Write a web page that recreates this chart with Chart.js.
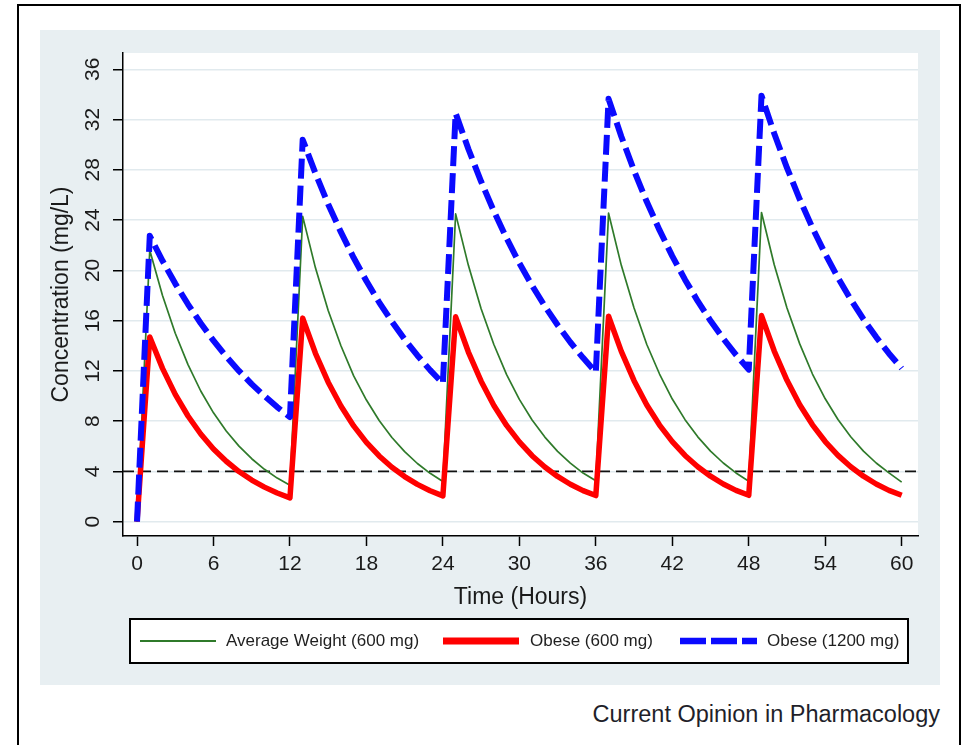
<!DOCTYPE html>
<html>
<head>
<meta charset="utf-8">
<script src="https://cdn.jsdelivr.net/npm/chart.js@4.4.1/dist/chart.umd.min.js"></script>
<style>
html,body{margin:0;padding:0;background:#fff;width:964px;height:745px;overflow:hidden;}
#frame{position:absolute;left:17px;top:4px;width:944px;height:800px;border:2px solid #000;box-sizing:border-box;}
#panel{position:absolute;left:40px;top:30px;width:900px;height:655px;}
#caption{position:absolute;right:24px;top:701px;font:23.5px "Liberation Sans",Arial,sans-serif;line-height:26px;color:#1f1f2a;white-space:nowrap;}
</style>
</head>
<body>
<div id="frame"></div>
<div id="panel"><canvas id="c" width="900" height="655"></canvas></div>
<div id="caption">Current Opinion in Pharmacology</div>
<script>
// ---- data ----
const hours = [0,1,2,3,4,5,6,7,8,9,10,11,12,13,14,15,16,17,18,19,20,21,22,23,24,25,26,27,28,29,30,31,32,33,34,35,36,37,38,39,40,41,42,43,44,45,46,47,48,49,50,51,52,53,54,55,56,57,58,59,60];
const avgWeight600 = [0,
  21.6,18.0,15.0,12.5,10.4,8.66,7.22,6.01,5.01,4.17,3.47,2.9,
  24.3,20.2,16.8,14.0,11.6,9.68,8.05,6.70,5.57,4.63,3.85,3.2,
  24.5,20.4,16.95,14.1,11.7,9.73,8.09,6.73,5.6,4.66,3.87,3.25,
  24.55,20.4,17.0,14.1,11.75,9.76,8.12,6.75,5.62,4.67,3.88,3.22,
  24.6,20.45,17.0,14.15,11.75,9.78,8.13,6.76,5.62,4.67,3.88,3.15];
const obese600 = [0,
  14.7,12.2,10.13,8.41,6.98,5.79,4.81,3.99,3.31,2.75,2.28,1.9,
  16.2,13.4,11.1,9.2,7.62,6.31,5.23,4.33,3.59,2.97,2.46,2.05,
  16.3,13.5,11.18,9.25,7.66,6.35,5.25,4.35,3.6,2.98,2.47,2.08,
  16.35,13.55,11.22,9.28,7.69,6.37,5.27,4.37,3.62,3.0,2.49,2.1,
  16.4,13.58,11.25,9.31,7.71,6.38,5.28,4.37,3.62,3.0,2.49,2.1];
const obese1200 = [0,
  22.75,20.76,18.95,17.3,15.79,14.41,13.15,12.0,10.95,10.0,9.12,8.33,
  30.4,27.72,25.27,23.04,21.0,19.15,17.46,15.92,14.51,13.23,12.06,11.0,
  32.5,29.66,27.07,24.71,22.55,20.58,18.79,17.15,15.65,14.28,13.04,11.9,
  33.65,30.66,27.94,25.46,23.2,21.14,19.26,17.55,15.99,14.57,13.28,12.1,
  33.9,30.89,28.15,25.66,23.38,21.31,19.42,17.69,16.12,14.69,13.39,12.2];
const thresholdValue = 4;
const xTicks = [0,6,12,18,24,30,36,42,48,54,60];
const yTicks = [0,4,8,12,16,20,24,28,32,36];
const seriesNames = ['Average Weight (600 mg)','Obese (600 mg)','Obese (1200 mg)'];

// ---- chart ----
const X_MIN = -1.1, X_MAX = 61.28, Y_MIN = -1.14, Y_MAX = 37.3;
const FONT = '"Liberation Sans", Arial, sans-serif';
const toPts = arr => hours.map((h,i)=>({x:h, y:arr[i]}));

const bgPlugin = {
  id:'bg',
  beforeDraw(chart){
    const {ctx, chartArea:a} = chart;
    ctx.save();
    ctx.fillStyle = '#e8eff2';
    ctx.fillRect(0,0,chart.width,chart.height);
    ctx.fillStyle = '#ffffff';
    ctx.fillRect(a.left, a.top, a.right-a.left, a.bottom-a.top);
    ctx.restore();
  }
};

const legendPlugin = {
  id:'customLegend',
  afterDraw(chart){
    const ctx = chart.ctx;
    const ds = chart.data.datasets;
    ctx.save();
    ctx.fillStyle = '#fff';
    ctx.fillRect(90,589,778,44);
    ctx.strokeStyle = '#000';
    ctx.lineWidth = 2;
    ctx.strokeRect(90,589,778,44);
    const cy = 611;
    const items = [
      {ds:ds[0], x0:100, x1:176, tx:186, w:2, dash:[]},
      {ds:ds[1], x0:403, x1:479, tx:490, w:7, dash:[]},
      {ds:ds[2], x0:640, x1:717, tx:727, w:6.5, dash:[26,5]}
    ];
    items.forEach(it=>{
      ctx.beginPath();
      ctx.setLineDash(it.dash);
      ctx.lineCap = 'butt';
      ctx.strokeStyle = it.ds.borderColor;
      ctx.lineWidth = it.w;
      ctx.moveTo(it.x0, cy);
      ctx.lineTo(it.x1, cy);
      ctx.stroke();
      ctx.setLineDash([]);
      ctx.fillStyle = '#1f1f1f';
      ctx.font = '17px ' + FONT;
      ctx.textBaseline = 'middle';
      ctx.textAlign = 'left';
      ctx.fillText(it.ds.label, it.tx, cy);
    });
    ctx.restore();
  }
};

new Chart(document.getElementById('c'), {
  type:'line',
  data:{
    datasets:[
      {label:seriesNames[0], data:toPts(avgWeight600), borderColor:'#2f7a2a', borderWidth:1.7, borderJoinStyle:'round', order:2},
      {label:seriesNames[1], data:toPts(obese600), borderColor:'#ff0000', borderWidth:5.5, borderJoinStyle:'round', order:1},
      {label:seriesNames[2], data:toPts(obese1200), borderColor:'#0a0aff', borderWidth:6, borderDash:[20,7], borderJoinStyle:'round', order:0},
      {label:'threshold', data:[{x:X_MIN,y:thresholdValue},{x:X_MAX,y:thresholdValue}], borderColor:'#111', borderWidth:1.6, borderDash:[11,6], order:3}
    ]
  },
  options:{
    responsive:false,
    devicePixelRatio:1,
    animation:false,
    layout:{padding:{top:23,right:22,left:0,bottom:0}},
    elements:{
      point:{radius:0,hoverRadius:0},
      line:{tension:0,borderCapStyle:'butt',fill:false}
    },
    plugins:{legend:{display:false},tooltip:{enabled:false}},
    scales:{
      x:{
        type:'linear', min:X_MIN, max:X_MAX,
        afterBuildTicks(scale){ scale.ticks = xTicks.map(v=>({value:v})); },
        afterFit(scale){ scale.height = 149; },
        grid:{drawOnChartArea:false, drawTicks:true, tickLength:10, tickColor:'#000', tickWidth:1.5},
        border:{display:true, color:'#000', width:1.5},
        ticks:{autoSkip:false, maxRotation:0, minRotation:0, padding:6, color:'#1a1a1a', font:{family:FONT,size:21}},
        title:{display:true, text:'Time (Hours)', color:'#1a1a1a', font:{family:FONT,size:23}, padding:{top:0,bottom:74}}
      },
      y:{
        type:'linear', min:Y_MIN, max:Y_MAX,
        afterBuildTicks(scale){ scale.ticks = yTicks.map(v=>({value:v})); },
        afterFit(scale){ scale.width = 83; },
        grid:{color:'#e1eaee', lineWidth:1.5, drawTicks:true, tickLength:10, tickColor:'#000', tickWidth:1.5},
        border:{display:true, color:'#000', width:1.5},
        ticks:{autoSkip:false, minRotation:90, maxRotation:90, crossAlign:'center', padding:8, color:'#1a1a1a', font:{family:FONT,size:21}},
        title:{display:true, text:'Concentration (mg/L)', color:'#1a1a1a', font:{family:FONT,size:23}, padding:{top:8,bottom:0}}
      }
    }
  },
  plugins:[bgPlugin, legendPlugin]
});
</script>
</body>
</html>
